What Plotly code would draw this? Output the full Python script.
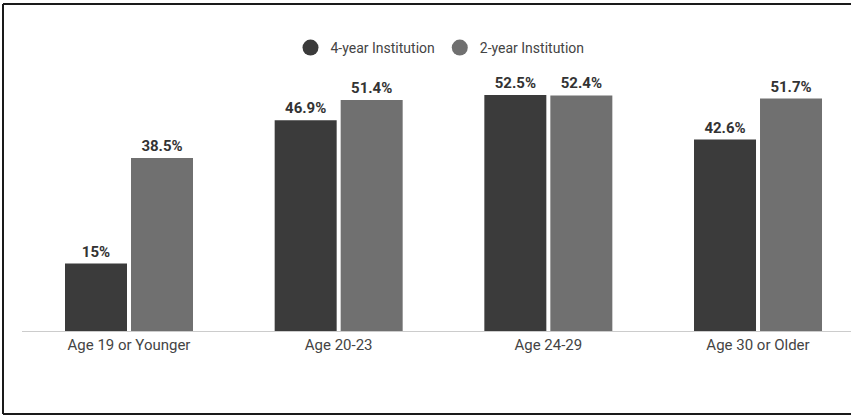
import plotly.graph_objects as go

categories = ["Age 19 or Younger", "Age 20-23", "Age 24-29", "Age 30 or Older"]
four_year = [15, 46.9, 52.5, 42.6]
two_year = [38.5, 51.4, 52.4, 51.7]
four_labels = ["15%", "46.9%", "52.5%", "42.6%"]
two_labels = ["38.5%", "51.4%", "52.4%", "51.7%"]
series_names = ["4-year Institution", "2-year Institution"]

DARK = "#3b3b3b"
LIGHT = "#707070"
W, H = 851, 417
ML, MR, MT, MB = 22, 0, 70, 86
PW = W - ML - MR
PH = H - MT - MB

xpos = list(range(len(categories)))
unit = 209.67  # px per category
x0 = (ML - 129) / unit
x1 = (W - MR - 129) / unit
bw = 62 / unit

fig = go.Figure()
fig.add_trace(go.Bar(
    x=xpos, y=four_year, text=four_labels, textposition="outside",
    marker=dict(color=DARK, line=dict(width=0)), width=bw, offset=-64 / unit,
    showlegend=False, cliponaxis=False,
    textfont=dict(family="Roboto", size=15, color="#333333", weight="bold"),
))
fig.add_trace(go.Bar(
    x=xpos, y=two_year, text=two_labels, textposition="outside",
    marker=dict(color=LIGHT, line=dict(width=0)), width=bw, offset=2 / unit,
    showlegend=False, cliponaxis=False,
    textfont=dict(family="Roboto", size=15, color="#333333", weight="bold"),
))
for name, col in zip(series_names, [DARK, LIGHT]):
    fig.add_trace(go.Scatter(
        x=[None], y=[None], mode="markers", name=name,
        marker=dict(color=col, size=16, symbol="circle"),
    ))

ymax = PH / 4.495

def px_to_paper_x(px):
    return (px - ML) / PW

def px_to_paper_y(py):
    return (H - MB - py) / PH

border = dict(color="#1a1a1a", width=2)
shapes = [
    dict(type="line", xref="paper", yref="paper",
         x0=px_to_paper_x(3), x1=px_to_paper_x(3),
         y0=px_to_paper_y(4), y1=px_to_paper_y(414), line=border),
    dict(type="line", xref="paper", yref="paper",
         x0=px_to_paper_x(3), x1=px_to_paper_x(W + 2),
         y0=px_to_paper_y(4), y1=px_to_paper_y(4), line=border),
    dict(type="line", xref="paper", yref="paper",
         x0=px_to_paper_x(3), x1=px_to_paper_x(W + 2),
         y0=px_to_paper_y(414), y1=px_to_paper_y(414), line=border),
]

fig.update_layout(
    width=W, height=H,
    margin=dict(l=ML, r=MR, t=MT, b=MB, pad=0),
    paper_bgcolor="white", plot_bgcolor="white",
    barmode="overlay",
    font=dict(family="Roboto", size=13, color="#444444"),
    showlegend=True,
    legend=dict(orientation="h", x=px_to_paper_x(440), xanchor="center",
                y=px_to_paper_y(48), yanchor="middle",
                font=dict(family="Roboto", size=14, color="#444444"),
                itemwidth=30, bgcolor="rgba(0,0,0,0)"),
    xaxis=dict(range=[x0, x1], tickvals=xpos, ticktext=categories,
               showgrid=False, zeroline=False, showline=True,
               linecolor="#cccccc", linewidth=1, ticks="",
               tickfont=dict(family="Roboto", size=15, color="#444444"),
               fixedrange=True),
    yaxis=dict(range=[0, ymax], showgrid=False, zeroline=False,
               showticklabels=False, showline=False, fixedrange=True),
    shapes=shapes,
)

fig.write_html("out.html")
